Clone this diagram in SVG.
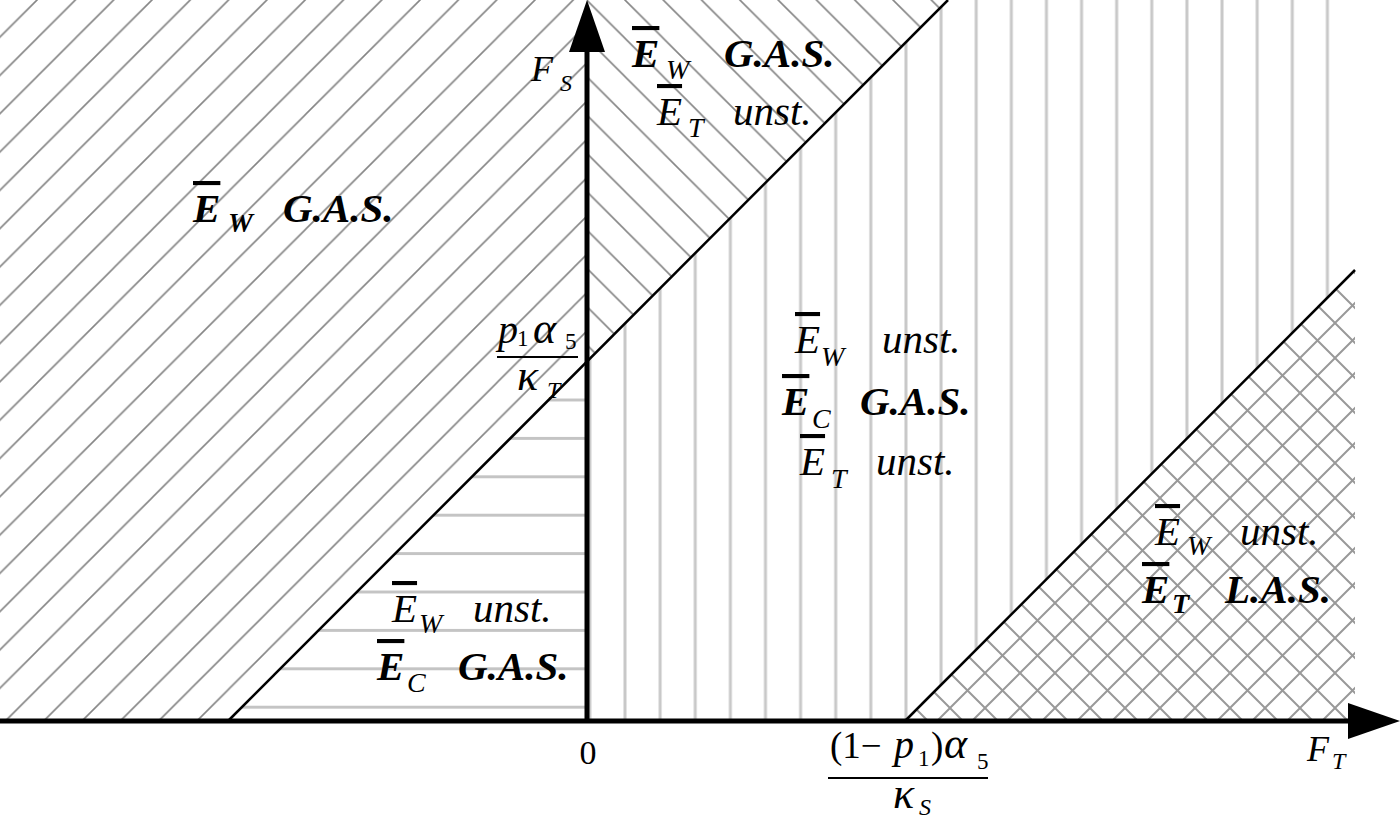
<svg xmlns="http://www.w3.org/2000/svg" width="1400" height="821" viewBox="0 0 1400 821">
<style>
.t{font-family:"Liberation Serif","Times New Roman",serif;font-style:italic;fill:#000}
.b{font-weight:bold}
.m{font-size:41px}
.s{font-size:28px}
.ax{font-size:36px}
.axs{font-size:24px}
.fr{font-size:40px}
.gr{font-size:44px}
.frs{font-size:23px;font-style:normal}
.up{font-style:normal}
.ob{text-decoration:overline}
.bd{stroke:#000;stroke-width:2.5;fill:none}
.axis{stroke:#000;stroke-width:5;fill:none}
.bar{stroke:#000;stroke-width:2.2}
</style>
<defs>
<pattern id="hA" patternUnits="userSpaceOnUse" x="37" y="0" width="38.3" height="38.3">
<path d="M-4,42.3 L42.3,-4 M-4,4 L4,-4 M34.3,42.3 L42.3,34.3" stroke="#858585" stroke-width="1.6"/>
</pattern>
<pattern id="hB" patternUnits="userSpaceOnUse" x="12.2" y="0" width="38.3" height="38.3">
<path d="M-4,-4 L42.3,42.3 M34.3,-4 L42.3,4 M-4,34.3 L4,42.3" stroke="#858585" stroke-width="1.6"/>
</pattern>
<pattern id="hX" patternUnits="userSpaceOnUse" x="5" y="8" width="35" height="35">
<path d="M-4,39 L39,-4 M-4,4 L4,-4 M31,39 L39,31 M-4,-4 L39,39 M31,-4 L39,4 M-4,31 L4,39" stroke="#999" stroke-width="2"/>
</pattern>
<pattern id="hH" patternUnits="userSpaceOnUse" x="0" y="380.8" width="10" height="38.4">
<path d="M-1,19.2 L11,19.2" stroke="#c4c4c4" stroke-width="3"/>
</pattern>
<pattern id="hV" patternUnits="userSpaceOnUse" x="607.44" y="0" width="35.12" height="10">
<path d="M17.56,-1 L17.56,11" stroke="#c8c8c8" stroke-width="3"/>
</pattern>
</defs>
<rect width="1400" height="821" fill="#fff"/>
<g id="regions">
<polygon id="region-left" points="0,0 587,0 587,360 228,721 0,721" fill="url(#hA)"/>
<polygon id="region-top" points="587,0 948,0 587,360" fill="url(#hB)"/>
<polygon id="region-lower" points="228,721 587,360 587,721" fill="url(#hH)"/>
<polygon id="region-middle" points="587,360 948,0 1355,0 1355,270 905,721 587,721" fill="url(#hV)"/>
<polygon id="region-right" points="905,721 1355,270 1355,721" fill="url(#hX)"/>
</g>
<g id="connectors">
<line class="bd" x1="228" y1="721" x2="948" y2="0"/>
<line class="bd" x1="905" y1="721" x2="1355" y2="270"/>
<line class="axis" x1="0" y1="721" x2="1352" y2="721"/>
<polygon points="1348,703 1400,721 1348,739" fill="#000"/>
<line class="axis" x1="587" y1="721" x2="587" y2="48"/>
<polygon points="569,52 587,0 605,52" fill="#000"/>
</g>
<g id="axis-labels">
<text class="t ax" x="531" y="81">F<tspan class="axs" x="560" y="91">S</tspan></text>
<text class="t ax" x="1307" y="761">F<tspan class="axs" x="1332" y="769">T</tspan></text>
<text class="t up" style="font-size:34px" x="588" y="764" text-anchor="middle">0</text>
<g id="frac-y">
<text class="t fr" x="498" y="343">p<tspan class="frs" x="517" y="346">1</tspan><tspan class="gr" x="533" y="343">α</tspan><tspan class="frs" x="565" y="349">5</tspan></text>
<line class="bar" x1="497" y1="357" x2="578" y2="357"/>
<text class="t gr" x="517" y="390">κ<tspan class="axs" x="547" y="398">T</tspan></text>
</g>
<g id="frac-x">
<text class="t" style="font-size:37px" x="830" y="758"><tspan class="up">(1−</tspan><tspan x="894" style="font-size:40px">p</tspan><tspan class="frs" x="918" y="766">1</tspan><tspan class="up" x="931" y="758">)</tspan><tspan class="gr" x="944">α</tspan><tspan class="frs" x="977" y="769">5</tspan></text>
<line class="bar" x1="828" y1="778" x2="988" y2="778"/>
<text class="t gr" x="893" y="808">κ<tspan class="axs" x="919" y="815">S</tspan></text>
</g>
</g>
<g id="label-left">
<text class="t m b" x="193" y="222"><tspan class="ob">E</tspan><tspan class="s" x="228" y="232">W</tspan><tspan x="283" y="222">G.A.S.</tspan></text>
</g>
<g id="label-top">
<text class="t m b" x="632" y="67"><tspan class="ob">E</tspan><tspan class="s" style="font-weight:normal" x="666" y="79">W</tspan><tspan x="724" y="67">G.A.S.</tspan></text>
<text class="t m" x="657" y="125"><tspan class="ob">E</tspan><tspan class="s" x="688" y="137">T</tspan><tspan x="733" y="125">unst.</tspan></text>
</g>
<g id="label-middle">
<text class="t m" x="795" y="353"><tspan class="ob">E</tspan><tspan class="s" x="821" y="366">W</tspan><tspan x="882" y="353">unst.</tspan></text>
<text class="t m b" x="782" y="415"><tspan class="ob">E</tspan><tspan class="s" style="font-weight:normal" x="812" y="428">C</tspan><tspan x="860" y="415">G.A.S.</tspan></text>
<text class="t m" x="800" y="475"><tspan class="ob">E</tspan><tspan class="s" x="831" y="488">T</tspan><tspan x="876" y="475">unst.</tspan></text>
</g>
<g id="label-lower">
<text class="t m" x="392" y="622"><tspan class="ob">E</tspan><tspan class="s" x="419" y="633">W</tspan><tspan x="473" y="622">unst.</tspan></text>
<text class="t m b" x="377" y="680"><tspan class="ob">E</tspan><tspan class="s" style="font-weight:normal" x="407" y="692">C</tspan><tspan x="458" y="680">G.A.S.</tspan></text>
</g>
<g id="label-right">
<text class="t m" x="1155" y="545"><tspan class="ob">E</tspan><tspan class="s" x="1187" y="555">W</tspan><tspan x="1240" y="545">unst.</tspan></text>
<text class="t m b" x="1142" y="603"><tspan class="ob">E</tspan><tspan class="s b" x="1172" y="613">T</tspan><tspan x="1225" y="603">L.A.S.</tspan></text>
</g>
</svg>
